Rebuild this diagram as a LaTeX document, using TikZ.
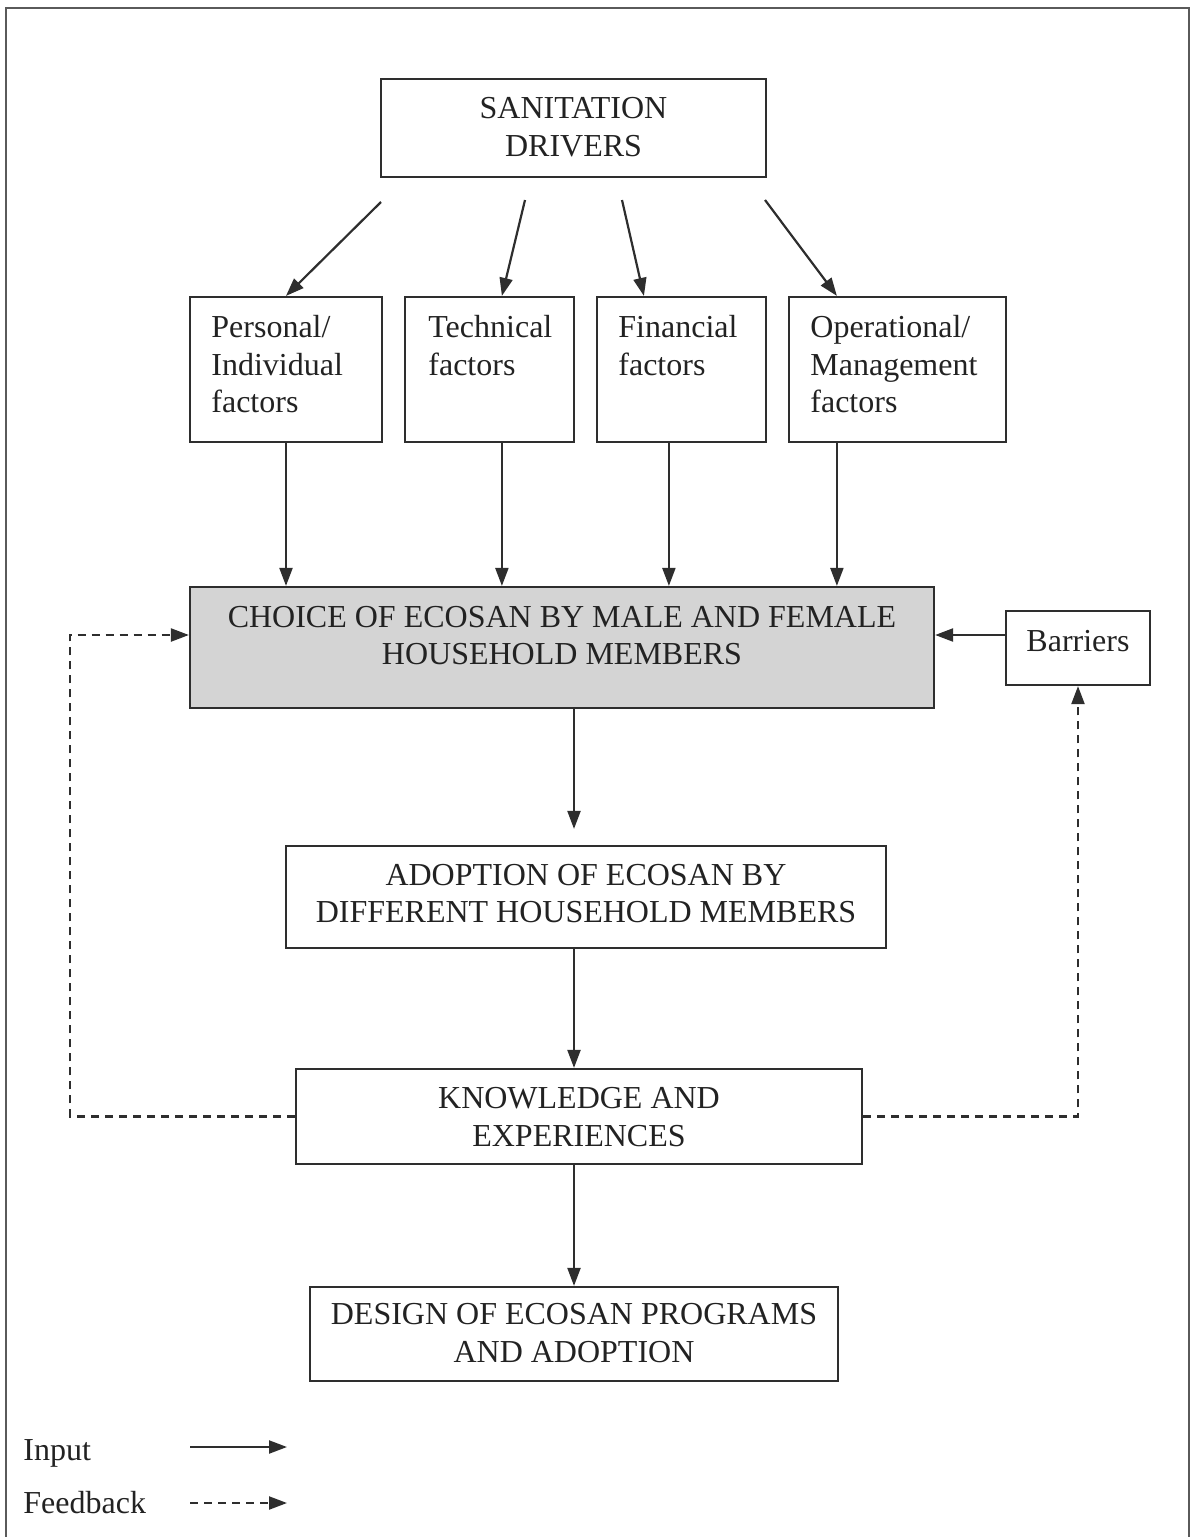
\documentclass[tikz,border=0pt]{standalone}
\usepackage{fontspec}
\setmainfont{Liberation Serif}
\usetikzlibrary{arrows.meta,calc}
\definecolor{linec}{HTML}{2E2E2E}
\definecolor{textc}{HTML}{222222}
\definecolor{fillc}{HTML}{D4D4D4}
\definecolor{framec}{HTML}{5A5A5A}
\begin{document}
\begin{tikzpicture}[x=0.5pt,y=-0.5pt,
  box/.style={draw=linec, line width=1.1pt, inner sep=0pt},
  txt/.style={inner sep=0pt, text=textc, font=\fontsize{16}{18.8}\selectfont},
  conn/.style={draw=linec, line width=1.1pt, -{Triangle[length=9pt,width=6.5pt]}},
  fb/.style={conn, dash pattern=on 4pt off 3pt}]
\useasboundingbox (0,0) rectangle (1192,1537);
% frame
\draw[framec, line width=1.2pt] (6,1537) -- (6,8) -- (1189,8) -- (1189,1537);
% boxes
\node[box, minimum width=192.5pt, minimum height=49pt] (san) at (573.5,128) {};
\node[txt, align=center] (santxt) at (573.5,127) {SANITATION\\DRIVERS};
\node[box, minimum width=96pt, minimum height=72.5pt] (pers) at (286,369.5) {};
\node[box, minimum width=84.5pt, minimum height=72.5pt] (tech) at (489.5,369.5) {};
\node[box, minimum width=84.5pt, minimum height=72.5pt] (fin) at (681.5,369.5) {};
\node[box, minimum width=108.5pt, minimum height=72.5pt] (oper) at (897.5,369.5) {};
\node[txt, align=left, anchor=north west] (perstxt) at (211,315) {Personal/\\Individual\\factors};
\node[txt, align=left, anchor=north west] (techtxt) at (428,315) {Technical\\factors};
\node[txt, align=left, anchor=north west] (fintxt) at (618,315) {Financial\\factors};
\node[txt, align=left, anchor=north west] (opertxt) at (810,315) {Operational/\\Management\\factors};
\node[box, fill=fillc, minimum width=372pt, minimum height=60.5pt] (choice) at (562,647.5) {};
\node[txt, align=center] (choicetxt) at (562,635.5) {CHOICE OF ECOSAN BY MALE AND FEMALE\\HOUSEHOLD MEMBERS};
\node[box, minimum width=72pt, minimum height=37pt] (barr) at (1078,648) {};
\node[txt] (barrtxt) at (1078,641) {Barriers};
\node[box, minimum width=300pt, minimum height=51pt] (adopt) at (586,897) {};
\node[txt, align=center] (adopttxt) at (586,893.5) {ADOPTION OF ECOSAN BY\\DIFFERENT HOUSEHOLD MEMBERS};
\node[box, minimum width=283pt, minimum height=47.5pt] (know) at (579,1116.5) {};
\node[txt, align=center] (knowtxt) at (579,1117) {KNOWLEDGE AND\\EXPERIENCES};
\node[box, minimum width=264pt, minimum height=47pt] (design) at (574,1334) {};
\node[txt, align=center] (designtxt) at (574,1333) {DESIGN OF ECOSAN PROGRAMS\\AND ADOPTION};
% arrows from drivers
\coordinate (s1) at (381,202);
\coordinate (s2) at (525,200);
\coordinate (s3) at (622,200);
\coordinate (s4) at (765,200);
\draw[conn] (s1) -- (pers.north);
\draw[conn] (s2) -- ($(tech.north west)+(98,0)$);
\draw[conn] (s3) -- ($(fin.north west)+(48,0)$);
\draw[conn] (s4) -- ($(oper.north west)+(49,0)$);
% factors to choice
\draw[conn] (pers.south) -- (pers.south |- choice.north);
\path (tech.south west) ++(98,0) coordinate (t1);
\draw[conn] (t1) -- (t1 |- choice.north);
\path (fin.south west) ++(73,0) coordinate (f1);
\draw[conn] (f1) -- (f1 |- choice.north);
\path (oper.south west) ++(49,0) coordinate (o1);
\draw[conn] (o1) -- (o1 |- choice.north);
% vertical chain
\path (choice.south) ++(12,0) coordinate (c1);
\draw[conn] (c1) -- ($(c1 |- adopt.north)+(0,-16)$);
\path (adopt.south) ++(-12,0) coordinate (a1);
\draw[conn] (a1) -- (a1 |- know.north);
\path (know.south) ++(-5,0) coordinate (k1);
\draw[conn] (k1) -- (k1 |- design.north);
% barriers
\path (barr.west) ++(0,-13) coordinate (b1);
\draw[conn] (b1) -- (b1 -| choice.east);
% feedback
\path (choice.west) ++(0,-12.5) coordinate (cw);
\coordinate (lft) at (70,0);
\draw[fb] (know.west) -- (know.west -| lft) -- (lft |- cw) -- (cw);
\draw[fb] (know.east) -| (barr.south);
% legend
\node[txt, anchor=base west] (inlab) at (23,1460) {Input};
\node[txt, anchor=base west] (fblab) at (23,1513) {Feedback};
\coordinate (in1) at (190,1447);
\coordinate (in2) at (287,1447);
\coordinate (fb1) at (190,1503);
\coordinate (fb2) at (287,1503);
\draw[conn] (in1) -- (in2);
\draw[fb] (fb1) -- (fb2);
\end{tikzpicture}
\end{document}
